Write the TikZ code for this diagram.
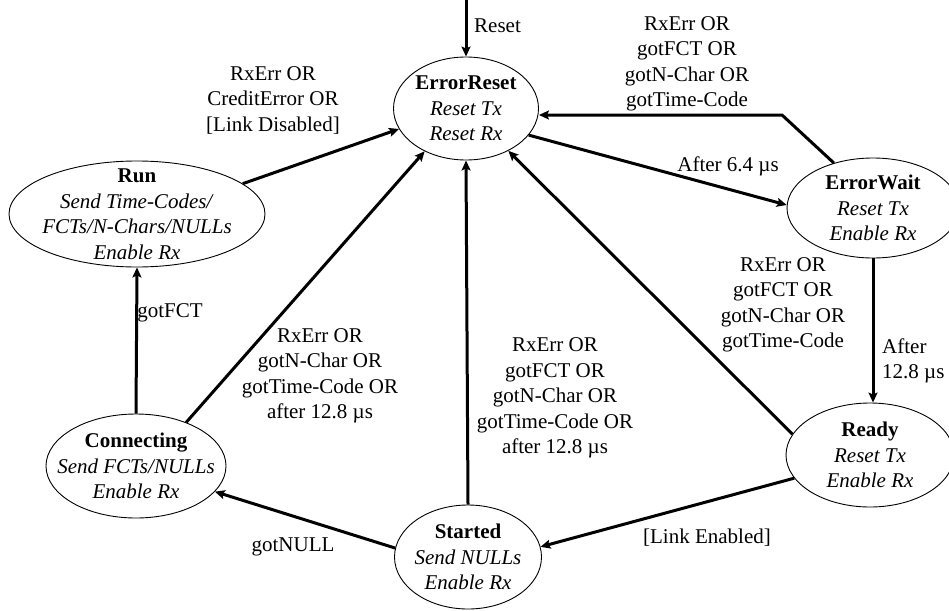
\documentclass[tikz,border=0pt]{standalone}
\usepackage{fontspec}
\setmainfont{Liberation Serif}
\usetikzlibrary{arrows.meta,shapes.geometric}
\begin{document}
\begin{tikzpicture}[x=1pt,y=-1pt,
  every node/.style={font=\fontsize{21}{25.5}\selectfont},
  st/.style={ellipse,draw,line width=0.9pt,inner sep=0pt},
  txt/.style={align=center,inner sep=0pt},
  lbl/.style={align=center,inner sep=0pt},
  tr/.style={line width=3pt,-{Stealth[length=10pt,width=9pt,inset=2pt]},shorten >=0pt}]
\useasboundingbox (0,0) rectangle (949,610);
% states
\node[st,minimum width=145pt,minimum height=103pt] (er) at (466,108.5) {};
\node[txt] (erT) at (er) {\textbf{ErrorReset}\\\textit{Reset Tx}\\\textit{Reset Rx}};
\node[st,minimum width=172pt,minimum height=100pt] (ew) at (873,208) {};
\node[txt] (ewT) at (ew) {\textbf{ErrorWait}\\\textit{Reset Tx}\\\textit{Enable Rx}};
\node[st,minimum width=168pt,minimum height=104pt] (rd) at (870,455) {};
\node[txt] (rdT) at (rd) {\textbf{Ready}\\\textit{Reset Tx}\\\textit{Enable Rx}};
\node[st,minimum width=147pt,minimum height=104pt] (sd) at (468,557) {};
\node[txt] (sdT) at (sd) {\textbf{Started}\\\textit{Send NULLs}\\\textit{Enable Rx}};
\node[st,minimum width=180pt,minimum height=104pt] (cn) at (136,466) {};
\node[txt] (cnT) at (cn) {\textbf{Connecting}\\\textit{Send FCTs/NULLs}\\\textit{Enable Rx}};
\node[st,minimum width=256pt,minimum height=106pt] (run) at (137,214) {};
\node[txt] (runT) at (run) {\textbf{Run}\\\textit{Send Time-Codes/}\\\textit{FCTs/N-Chars/NULLs}\\\textit{Enable Rx}};
% connectors
\coordinate (rst) at (466,0);
\coordinate (bend) at (782,115);
\draw[tr] (rst) -- (er.north);
\draw[tr] (run.16.5) -- (er.197);
\draw[tr] (ew.131) -- (bend) -- (bend -| er.east);
\draw[tr] (er.-23.5) -- (ew.178);
\draw[tr] (ew.south) -- (ew.south |- rd.north);
\draw[tr] (rd.165) -- (er.-45);
\draw[tr] (rd.197) -- (sd.8);
\draw[tr] (sd.north) -- (er.south);
\draw[tr] (sd.173) -- (cn.-18);
\draw[tr] (cn.north) -- (run.south);
\draw[tr] (cn.41) -- (er.226);
% labels
\node[lbl,anchor=west] (lRst) at (474,26) {Reset};
\node[lbl] (lRun) at (273,100) {RxErr OR\\CreditError OR\\{[Link Disabled]}};
\node[lbl] (lEw) at (687,64) {RxErr OR\\gotFCT OR\\gotN-Char OR\\gotTime-Code};
\node[lbl] (lAft) at (728,166) {After 6.4 µs};
\node[lbl,align=left,anchor=west] (lAft2) at (882,361) {After\\12.8 µs};
\node[lbl] (lRd) at (783,305) {RxErr OR\\gotFCT OR\\gotN-Char OR\\gotTime-Code};
\node[lbl] (lSd) at (555,398) {RxErr OR\\gotFCT OR\\gotN-Char OR\\gotTime-Code OR\\after 12.8 µs};
\node[lbl] (lCn) at (320,376) {RxErr OR\\gotN-Char OR\\gotTime-Code OR\\after 12.8 µs};
\node[lbl] (lFct) at (170,313) {gotFCT};
\node[lbl] (lNull) at (293,547) {gotNULL};
\node[lbl] (lLe) at (707,538) {[Link Enabled]};
\end{tikzpicture}
\end{document}
